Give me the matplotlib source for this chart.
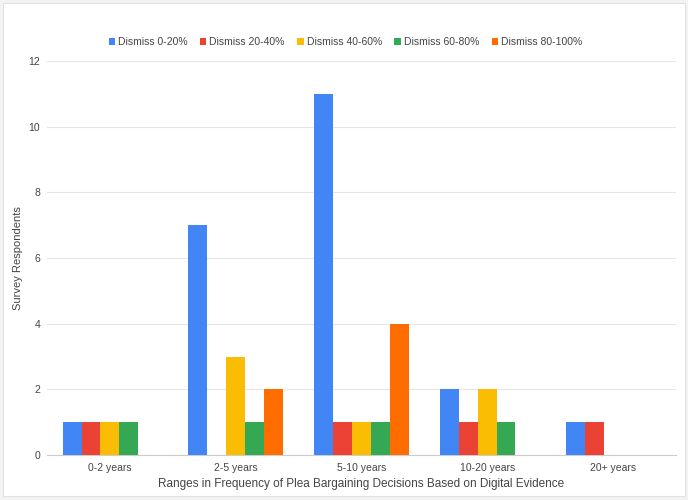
import numpy as np
import matplotlib.pyplot as plt
from matplotlib.patches import Rectangle

categories = ["0-2 years", "2-5 years", "5-10 years", "10-20 years", "20+ years"]
series_names = ["Dismiss 0-20%", "Dismiss 20-40%", "Dismiss 40-60%", "Dismiss 60-80%", "Dismiss 80-100%"]
dismiss_0_20 = [1, 7, 11, 2, 1]
dismiss_20_40 = [1, 0, 1, 1, 1]
dismiss_40_60 = [1, 3, 1, 2, 0]
dismiss_60_80 = [1, 1, 1, 1, 0]
dismiss_80_100 = [0, 2, 4, 0, 0]
colors = ["#4285F4", "#EA4335", "#FBBC04", "#34A853", "#FF6D01"]

plt.rcParams['font.family'] = ['Liberation Sans', 'DejaVu Sans']

fig = plt.figure(figsize=(6.88, 5), dpi=100)
fig.patch.set_facecolor('#f3f3f3')
# white card with a faint border, like the exported sheet chart
fig.patches.append(Rectangle((3 / 688, 4 / 500), 682 / 688, 493 / 500, transform=fig.transFigure,
                             facecolor='white', edgecolor='#e2e2e2', linewidth=0.8, zorder=-10))
ax = fig.add_axes([0.0683, 0.09, 0.914, 0.788])
ax.set_facecolor('none')

all_series = [dismiss_0_20, dismiss_20_40, dismiss_40_60, dismiss_60_80, dismiss_80_100]
x = np.arange(len(categories))
width = 0.75 / 5
for i, (name, vals) in enumerate(zip(series_names, all_series)):
    ax.bar(x + (i - 2) * width, vals, width, color=colors[i], label=name, zorder=3)

ax.set_xlim(-0.5, len(categories) - 0.5)
ax.set_ylim(0, 12)
ax.set_yticks(range(0, 13, 2))
ax.set_xticks(x)
ax.set_xticklabels(categories)
ax.grid(True, axis='y', color='#e6e6e6', linewidth=0.8, zorder=0)
for s in ['top', 'right', 'left']:
    ax.spines[s].set_visible(False)
ax.spines['bottom'].set_color('#cccccc')
ax.tick_params(axis='both', length=0, labelsize=7.5, colors='#444444')
ax.tick_params(axis='y', pad=5)
ax.tick_params(axis='x', pad=6)
ax.set_xlabel("Ranges in Frequency of Plea Bargaining Decisions Based on Digital Evidence",
              fontsize=8.5, color='#444444', labelpad=3)
ax.set_ylabel("Survey Respondents", fontsize=8, color='#444444', labelpad=4)

fig.legend(loc='center', bbox_to_anchor=(0.502, 0.916), ncol=5, frameon=False,
           fontsize=7.5, handlelength=0.6, handleheight=0.6, handletextpad=0.3,
           columnspacing=1.2, labelcolor='#444444')

fig.savefig("out.png", dpi=100, facecolor=fig.get_facecolor())
